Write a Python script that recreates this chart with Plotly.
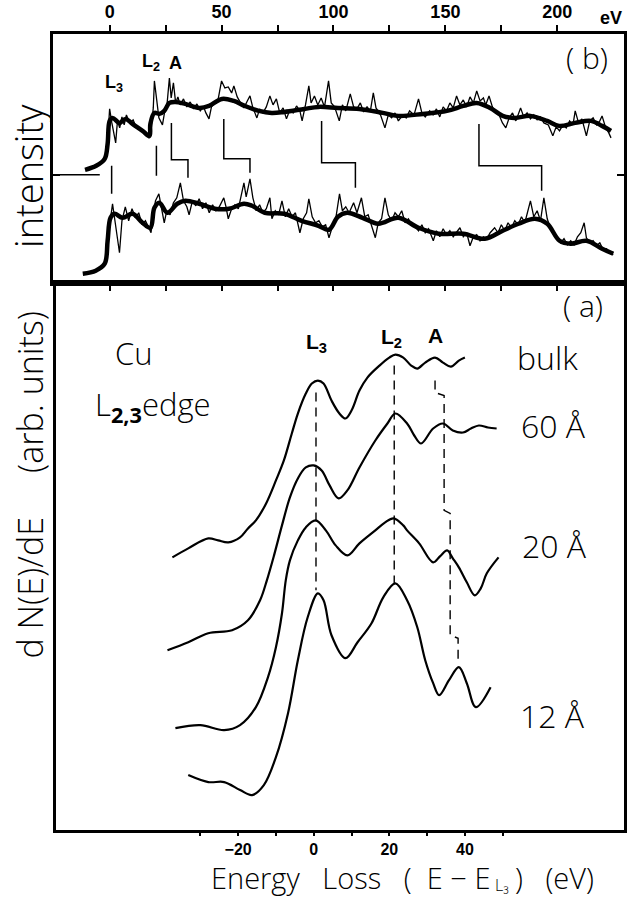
import plotly.graph_objects as go

# ---------------- Panel (b): wide-range spectra ----------------
# upper spectrum, smoothed (eV, intensity a.u.)
b_up_smooth_x = [-11, -6, -2.2, -0.9, 0, 1.3, 4.4, 7.1, 10.2, 14.7, 17.8, 18.2, 20, 22.2, 24.4, 26.7, 29.3,
                 33.8, 40, 44.4, 50.2, 55.5, 60.4, 66.7, 72.4, 78, 87, 93.3, 102, 111.6, 122, 129, 140, 150.7,
                 158, 164, 170, 175.6, 181, 188, 195.5, 200.8, 208, 215, 220, 224]
b_up_smooth_y = [113, 117, 124, 139, 162, 165, 160, 164, 159, 152, 147, 159, 170, 169, 172, 180, 181,
                 179, 175, 177, 184, 182, 177, 172, 170, 171, 174, 176, 175, 174, 170, 167, 169, 172,
                 177, 180, 175, 167, 165, 167, 162, 157, 160, 162, 157, 152]
# upper spectrum, raw
b_up_raw_x = [-1, 0, 1, 2.7, 3.5, 4.5, 5.5, 6.5, 7.5, 9, 10.5, 12, 14, 16, 17.5, 18.5, 19.5, 20, 21, 22, 23.6,
              24.5, 25.5, 26.7, 27.5, 28.5, 29.5, 30.5, 31.5, 33, 34.5, 36, 37.5, 39, 40.5, 42, 43, 44.4, 45.5,
              47, 48.5, 50, 51.5, 53, 54.5, 55.5, 57, 58.5, 60, 61.5, 62.7, 64, 65.8, 67, 68.5, 70, 71.6, 73,
              74.5, 76, 77.5, 79, 80.5, 82, 83.5, 85, 86, 87.5, 89, 90, 91.5, 93, 94.5, 96, 97.8, 99, 100.5,
              102.6, 104, 105.5, 107.5, 109, 110.5, 112, 113.5, 115, 116.5, 117.8, 119, 121, 123, 124.5, 126,
              127.5, 129, 131, 132.5, 134, 136, 138, 139.5, 141, 143, 144.5, 146, 147.5, 149, 150.5, 152,
              153.5, 155, 156.5, 158, 159.5, 161, 162.5, 164, 165.5, 167, 168, 169.5, 171, 172.5, 174, 175.5,
              177, 178.5, 180, 181.5, 183.6, 185, 186.5, 188, 189.5, 191, 192.5, 194, 196, 198, 199.5, 201,
              202.5, 204, 205.5, 207, 208, 209.5, 211, 213, 214.5, 216, 217.5, 219, 220, 221.5, 223, 224]
b_up_raw_y = [139, 174, 160, 140, 162, 155, 166, 158, 168, 160, 163, 155, 153, 148, 145, 152, 175, 202, 180, 165, 158,
              170, 175, 205, 185, 200, 180, 186, 178, 184, 176, 181, 174, 179, 172, 176, 170, 164, 176,
              180, 184, 202, 195, 196, 190, 197, 186, 180, 175, 182, 187, 175, 165, 174, 170, 176, 187, 178,
              184, 170, 175, 164, 173, 170, 177, 172, 162, 178, 197, 180, 187, 178, 185, 176, 202, 180, 176,
              162, 178, 172, 189, 176, 174, 180, 171, 176, 172, 190, 175, 168, 155, 168, 165,
              170, 162, 168, 165, 172, 168, 184, 170, 166, 172, 168, 174, 166, 176, 172, 180,
              175, 187, 178, 183, 176, 186, 180, 192, 182, 185, 178, 187, 176, 170, 168, 160,
              155, 165, 170, 162, 175, 166, 170, 164, 168, 163, 166, 160, 158, 147, 156, 152,
              158, 155, 162, 158, 172, 160, 164, 147, 162, 165, 158, 162, 167, 156, 150, 145]
# lower spectrum, smoothed
b_lo_smooth_x = [-12, -6.2, -2.2, -0.9, 0.4, 2.2, 5.8, 10.2, 14.7, 18.2, 20, 22.2, 25.8, 30.2, 33.8, 40, 47, 53.3,
                 60, 63.6, 69.3, 78, 85.8, 93.3, 98, 102, 106, 113, 120, 129, 138, 147, 158, 167.6, 175.6,
                 182.7, 190, 195.5, 201, 206, 213, 220, 225]
b_lo_smooth_y = [9, 12, 19, 42, 65, 69, 65, 69, 60, 55, 75, 80, 70, 79, 82, 79, 74, 74,
                 79, 77, 70, 69, 62, 57, 53, 66, 70, 65, 59, 65, 55, 49, 49, 44, 52,
                 59, 64, 59, 42, 39, 42, 34, 29]
# lower spectrum, raw
b_lo_raw_x = [-1, 0.4, 1.3, 2.5, 4.4, 5.5, 7, 8.5, 10, 11.5, 13, 14.5, 16, 17.5, 18.5, 19.5, 20.5, 22, 23, 24.4,
              25.5, 27, 28.5, 30, 31.6, 33, 34.5, 35.5, 37, 38.5, 40, 41.5, 43, 44.5, 46, 47.5, 49, 51, 52, 53,
              54.5, 56, 57.5, 59, 60, 61, 62.7, 64, 65.5, 67, 68.5, 70, 71.6, 72.5, 74, 75.5, 77, 78.5, 80,
              81.5, 83, 85, 86.5, 88, 89, 90.5, 92, 93.5, 95, 96.5, 98, 99.5, 101, 102.7, 104, 105.5, 107,
              109, 110.5, 112.5, 114, 115.5, 117, 118.7, 120, 121.5, 123, 124.5, 126, 127.5, 129, 130.5, 132,
              133.5, 135, 136.5, 138, 139.5, 141, 142.5, 144.6, 146, 147.5, 149, 150.5, 152, 153.5, 155,
              156.5, 158, 159.5, 161, 162.5, 164, 165.5, 167, 168.5, 170, 172, 173.5, 175, 176.5, 178, 179.5,
              181, 182.5, 184, 185.5, 187, 188, 189.5, 191, 192.5, 194, 195.5, 197, 198.5, 200, 201.5, 203,
              204.5, 206, 207.5, 209, 210.5, 212, 213, 214.5, 216, 217.5, 219, 220.5, 222, 223.5, 225]
b_lo_raw_y = [42, 68, 79, 60, 30, 62, 76, 62, 74, 65, 70, 58, 62, 55, 50, 70, 82, 89, 75, 60,
              72, 68, 80, 85, 100, 82, 76, 68, 82, 77, 84, 74, 80, 70, 78, 72, 76, 85, 76, 64,
              74, 78, 74, 88, 100, 86, 104, 85, 72, 78, 70, 74, 85, 64, 72, 68, 82, 66, 74,
              66, 70, 50, 64, 70, 84, 66, 60, 62, 56, 58, 45, 56, 64, 89, 72, 76, 70,
              80, 70, 85, 66, 68, 58, 45, 60, 64, 85, 68, 62, 70, 66, 72, 60,
              64, 58, 56, 52, 58, 50, 54, 42, 52, 46, 54, 48, 52, 46, 50,
              55, 46, 50, 37, 46, 48, 42, 46, 44, 50, 55, 50, 58, 52, 60, 55,
              62, 58, 66, 60, 74, 82, 66, 72, 62, 85, 64, 54, 48, 44, 40, 44,
              38, 42, 38, 46, 50, 60, 45, 40, 42, 37, 40, 33, 34, 30, 28]
# structure markers between the two spectra (None separates segments)
b_mark_x = [0.9, 0.9, None, 20.9, 20.9, None, 27.6, 27.6, 35, 35, None, 51, 51, 62.7, 62.7, None,
            94.7, 94.7, 109.8, 109.8, None, 165, 165, 193, 193]
b_mark_y = [117, 89, None, 137, 107, None, 160, 123, 123, 105, None, 164, 124, 124, 110, None,
            162, 120, 120, 95, None, 159, 117, 117, 92]
b_xticks = [0, 25, 50, 75, 100, 125, 150, 175, 200]
b_xticklabels = ["0", "", "50", "", "100", "", "150", "", "200"]

# ---------------- Panel (a): near-edge dN/dE ----------------
a_bulk_x = [-37.4, -33.2, -27.9, -25.3, -22.6, -19.5, -17.4, -15.3, -12.6, -10.0, -7.9, -5.8, -4.2, -2.1, -0.5,
            1.1, 2.6, 4.7, 6.8, 8.4, 10.0, 12.1, 14.2, 17.4, 20.0, 21.6, 23.7, 25.8, 27.4, 29.5, 32.1, 34.2,
            36.3, 38.4, 40.0]
a_bulk_y = [273, 282, 292, 290, 288, 293, 302, 310, 327, 350, 370, 397, 417, 437, 447,
            450, 447, 430, 417, 412, 420, 440, 453, 465, 473, 476, 473, 465, 462, 468, 473, 468,
            464, 470, 473]
a_60_x = [-38.7, -33.2, -27.9, -21.6, -17.4, -14.2, -12.4, -10.5, -8.4, -6.3, -4.2, -2.1, 0, 2.1, 4.2, 6.6,
          8.9, 12.1, 16.3, 19.5, 21.6, 24.7, 26.6, 28.4, 31.6, 34.2, 36.8, 39.5, 41.6, 43.7, 46.1, 48.4]
a_60_y = [180, 188, 197, 200, 210, 230, 250, 275, 305, 333, 352, 363, 365, 360, 345, 332,
          340, 363, 390, 407, 417, 407, 395, 387, 402, 407, 400, 398, 402, 405, 403, 402]
a_20_x = [-36.6, -30.0, -23.7, -19.5, -15.3, -12.1, -10.0, -8.4, -7.4, -6.3, -4.2, -2.1, 0.5, 3.2, 5.8, 8.9,
          12.1, 16.3, 18.9, 21.1, 23.7, 24.7, 27.9, 31.6, 33.4, 35.3, 36.8, 38.4, 40.5, 42.6, 44.2, 45.8, 48.9]
a_20_y = [102, 105, 100, 105, 123, 153, 183, 217, 250, 270, 290, 303, 310, 300, 285, 275,
          287, 300, 308, 312, 305, 300, 287, 268, 274, 280, 272, 263, 248, 235, 242, 257, 273]
a_12_x = [-33.2, -27.9, -23.7, -19.5, -16.3, -13.2, -10.0, -6.8, -4.2, -1.6, 1.1, 2.6, 4.7, 8.4, 11.6, 15.3,
          18.4, 21.6, 24.7, 27.4, 29.5, 31.6, 33.2, 35.8, 38.4, 40.5, 42.9, 46.8]
a_12_y = [55, 48, 48, 40, 35, 45, 73, 117, 170, 213, 237, 230, 195, 172, 188, 207,
          233, 247, 230, 203, 170, 147, 135, 150, 163, 147, 123, 143]
a_L3_x = [0.6, 0.6]
a_L3_y = [438, 240]
a_L2_x = [21.3, 21.3]
a_L2_y = [465, 247]
a_A_x = [32.1, 32.1, 34.5, 34.5, 36.1, 36.1, 38.2, 38.2]
a_A_y = [450, 438, 435, 320, 317, 195, 192, 168]
a_xticks = [-30, -20, -10, 0, 10, 20, 30, 40, 50]
a_xticklabels = ["", "\u221220", "", "0", "", "20", "", "40", ""]

W, H = 629, 898
ML, MR, MT, MB = 53, 2, 33, 68
PW, PH = W - ML - MR, H - MT - MB
split = (830 - 282) / PH

BLACK = "black"
THIN = "Open Sans"
BOLD = "Liberation Sans"

fig = go.Figure()

def add(x, y, xa, ya, width, shape="linear", dash="solid"):
    fig.add_trace(go.Scatter(x=x, y=y, mode="lines", xaxis=xa, yaxis=ya,
                             line=dict(color=BLACK, width=width, shape=shape, dash=dash),
                             showlegend=False, hoverinfo="skip", connectgaps=False))

# panel b
add(b_up_raw_x, b_up_raw_y, "x", "y", 1.3)
add(b_lo_raw_x, b_lo_raw_y, "x", "y", 1.3)
add(b_up_smooth_x, b_up_smooth_y, "x", "y", 4.5, "spline")
add(b_lo_smooth_x, b_lo_smooth_y, "x", "y", 4.5, "spline")
add(b_mark_x, b_mark_y, "x", "y", 1.5)

# panel a
for xs, ys in [(a_bulk_x, a_bulk_y), (a_60_x, a_60_y), (a_20_x, a_20_y), (a_12_x, a_12_y)]:
    add(xs, ys, "x2", "y2", 2.2, "spline")
add(a_L3_x, a_L3_y, "x2", "y2", 1.4, dash="9px,6px")
add(a_L2_x, a_L2_y, "x2", "y2", 1.4, dash="9px,6px")
add(a_A_x, a_A_y, "x2", "y2", 1.4, dash="9px,6px")

axline = dict(showline=True, linecolor=BLACK, linewidth=2.5, showgrid=False, zeroline=False)

fig.update_layout(
    width=W, height=H, margin=dict(l=ML, r=MR, t=MT, b=MB),
    paper_bgcolor="white", plot_bgcolor="white", showlegend=False,
    xaxis=dict(**axline, domain=[0, 1], anchor="y", side="top", range=[-25.3, 229.8],
               tickvals=b_xticks, ticktext=b_xticklabels, ticks="outside", ticklen=6, tickwidth=2,
               tickcolor=BLACK, mirror="ticks",
               tickfont=dict(family=BOLD, size=18, color=BLACK, weight="bold")),
    yaxis=dict(**axline, domain=[split, 1], anchor="x", range=[0, 249], tickvals=[108],
               ticks="inside", ticklen=7, tickwidth=2, tickcolor=BLACK, mirror="ticks",
               showticklabels=False),
    xaxis2=dict(**axline, domain=[3 / PW, 1], anchor="y2", range=[-68.2, 82.1],
                tickvals=a_xticks, ticktext=a_xticklabels, ticks="outside", ticklen=3, tickwidth=2,
                tickcolor=BLACK, mirror=True,
                tickfont=dict(family=BOLD, size=16, color=BLACK, weight="bold")),
    yaxis2=dict(**axline, domain=[0, split], anchor="x2", range=[0, 548], ticks="",
                showticklabels=False, mirror=True),
)

# baseline marker on the left of panel b
fig.add_shape(type="line", xref="x", yref="y", x0=-25.3, x1=-4.4, y0=108, y1=108,
              line=dict(color=BLACK, width=1.6))

def ann(text, x, y, size, xref="x", yref="y", bold=False, angle=0, family=None, xanchor="center"):
    fig.add_annotation(text=text, x=x, y=y, xref=xref, yref=yref, showarrow=False,
                       textangle=angle, xanchor=xanchor, yanchor="middle",
                       font=dict(family=family or (BOLD if bold else THIN), size=size, color=BLACK,
                                 weight="bold" if bold else 300))

def px2paper(px, py):
    return (px - ML) / PW, (830 - py) / PH

# panel b labels
ann("L<sub>3</sub>", 1.8, 199, 18, bold=True)
ann("L<sub>2</sub>", 18.7, 220, 18, bold=True)
ann("A", 29.3, 220, 18, bold=True)
ann("( b)", 213.3, 225, 30)
x0, y0 = px2paper(614, 17)
ann("eV", x0, y0, 18, "paper", "paper", bold=True)

# panel a labels
ann("( a)", 71.3, 525, 30, "x2", "y2")
ann("L<sub>3</sub>", 0.8, 488, 21, "x2", "y2", bold=True)
ann("L<sub>2</sub>", 20.5, 493, 21, "x2", "y2", bold=True)
ann("A", 32.1, 495, 21, "x2", "y2", bold=True)
ann("Cu", -47.6, 478, 31, "x2", "y2")
ann("L<sub><b>2,3</b></sub>edge", -42.6, 425, 31, "x2", "y2")
ann("bulk", 61.8, 473, 32, "x2", "y2")
ann("60 Å", 63.4, 405, 32, "x2", "y2")
ann("20 Å", 63.7, 285, 32, "x2", "y2")
ann("12 Å", 63.2, 115, 32, "x2", "y2")

# axis titles
x0, y0 = px2paper(28, 175)
ann("intensity", x0, y0, 38, "paper", "paper", angle=-90)
x0, y0 = px2paper(30, 484)
ann("d N(E)/dE     (arb. units)", x0, y0, 34, "paper", "paper", angle=-90)
# x-axis title, split so that the subscript does not enlarge the text box
x0, y0 = px2paper(494, 878)
ann("Energy   Loss   (  E \u2212 E", x0, y0, 29, "paper", "paper", xanchor="right")
x0, y0 = px2paper(495, 885)
ann("L\u2083", x0, y0, 16, "paper", "paper", xanchor="left")
x0, y0 = px2paper(515, 878)
ann(")   (eV)", x0, y0, 29, "paper", "paper", xanchor="left")

fig.write_html("out.html")
